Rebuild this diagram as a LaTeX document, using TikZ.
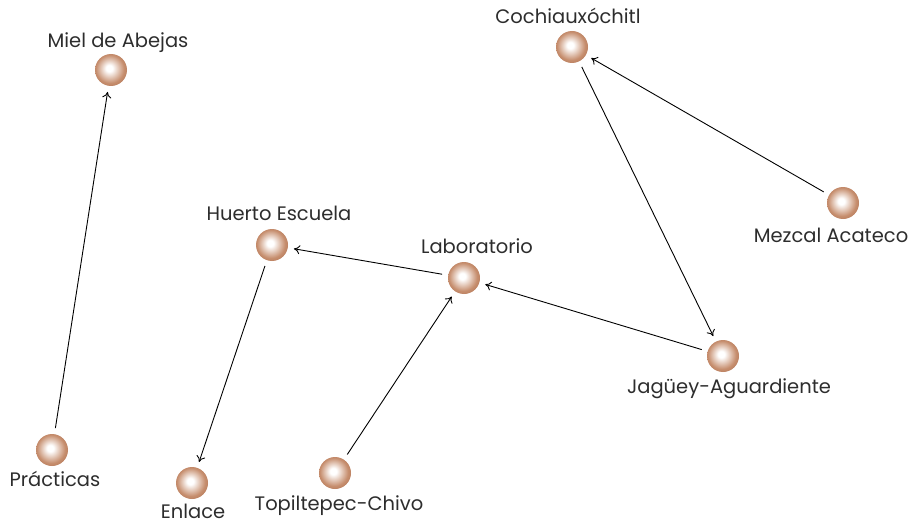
\documentclass[tikz,border=0pt]{standalone}
\usepackage{fontspec}
\setmainfont{Poppins}
\usetikzlibrary{arrows.meta}
\definecolor{sphedge}{RGB}{160,94,64}
\definecolor{sphmid}{RGB}{198,142,110}
\definecolor{txt}{RGB}{45,45,45}
\pgfdeclareradialshading{sphere}{\pgfpoint{-3bp}{3bp}}{%
  color(0bp)=(white); color(5bp)=(white); color(22bp)=(sphmid);
  color(40bp)=(sphedge); color(50bp)=(sphedge)}
\begin{document}
\begin{tikzpicture}[x=1pt,y=-1pt,
  ball/.style={circle,minimum size=32pt,inner sep=0pt,shading=sphere},
  tag/.style={text=txt,font=\fontsize{19.5}{22}\selectfont,inner sep=0pt,anchor=base},
  link/.style={draw=black,line width=0.9pt,-{To[length=6pt,width=9pt]},shorten >=6pt,shorten <=6pt}]
  \useasboundingbox (0,0) rectangle (918,524);
  % spheres
  \node[ball] (miel) at (111,70) {};
  \node[ball] (prac) at (52,450) {};
  \node[ball] (huerto) at (272,245) {};
  \node[ball] (enlace) at (192,483) {};
  \node[ball] (lab) at (464,278) {};
  \node[ball] (topil) at (335,473) {};
  \node[ball] (cochi) at (572,47) {};
  \node[ball] (mezcal) at (843,203) {};
  \node[ball] (jaguey) at (723,356) {};
  % names
  \node[tag] (tmiel) at (118,48) {Miel de Abejas};
  \node[tag] (tprac) at (55,486) {Prácticas};
  \node[tag] (thuerto) at (279,220) {Huerto Escuela};
  \node[tag] (tenlace) at (193,518) {Enlace};
  \node[tag] (tlab) at (477,253) {Laboratorio};
  \node[tag] (ttopil) at (339,510) {Topiltepec-Chivo};
  \node[tag] (tcochi) at (568,24) {Cochiauxóchitl};
  \node[tag] (tmezcal) at (831,242) {Mezcal Acateco};
  \node[tag] (tjaguey) at (729,393) {Jagüey-Aguardiente};
  % connections
  \draw[link] (prac) -- (miel);
  \draw[link] (huerto) -- (enlace);
  \draw[link] (lab) -- (huerto);
  \draw[link] (topil) -- (lab);
  \draw[link] (jaguey) -- (lab);
  \draw[link] (cochi) -- (jaguey);
  \draw[link] (mezcal) -- (cochi);
\end{tikzpicture}
\end{document}
